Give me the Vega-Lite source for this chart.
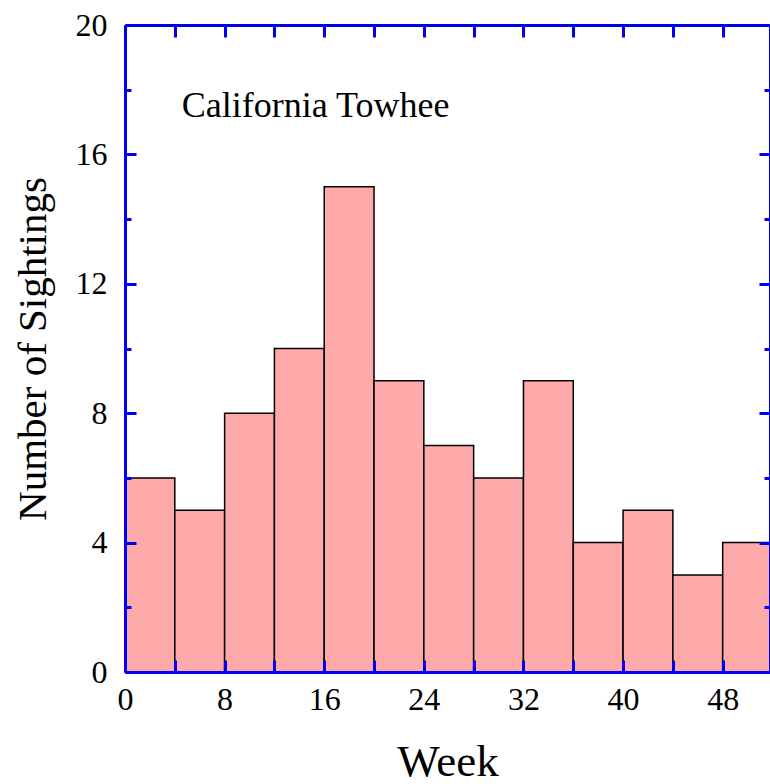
{
  "$schema": "https://vega.github.io/schema/vega-lite/v6.json",
  "width": 645,
  "height": 647,
  "autosize": {"type": "none"},
  "padding": {"left": 125, "top": 25, "right": 0, "bottom": 112},
  "background": "white",
  "config": {"view": {"stroke": null}, "font": "Liberation Serif"},
  "data": {"values": [
    {"start": 0, "end": 4, "count": 6},
    {"start": 4, "end": 8, "count": 5},
    {"start": 8, "end": 12, "count": 8},
    {"start": 12, "end": 16, "count": 10},
    {"start": 16, "end": 20, "count": 15},
    {"start": 20, "end": 24, "count": 9},
    {"start": 24, "end": 28, "count": 7},
    {"start": 28, "end": 32, "count": 6},
    {"start": 32, "end": 36, "count": 9},
    {"start": 36, "end": 40, "count": 4},
    {"start": 40, "end": 44, "count": 5},
    {"start": 44, "end": 48, "count": 3},
    {"start": 48, "end": 52, "count": 4}
  ]},
  "layer": [
    {
      "mark": {"type": "bar", "fill": "#ffaaaa", "stroke": "black", "strokeWidth": 1.5, "clip": true},
      "encoding": {
        "x": {"field": "start", "type": "quantitative",
          "scale": {"domain": [0, 51.8], "nice": false, "zero": false},
          "axis": {"orient": "bottom", "zindex": 1, "values": [0, 4, 8, 12, 16, 20, 24, 28, 32, 36, 40, 44, 48],
            "labelExpr": "datum.value % 8 === 0 ? datum.label : ''",
            "tickSize": -12, "tickWidth": 3, "tickColor": "#0000ee",
            "domainColor": "#0000ee", "domainWidth": 3, "grid": false,
            "labelFont": "Liberation Serif", "labelFontSize": 32, "labelColor": "black",
            "labelPadding": 24, "labelFlush": false, "labelOverlap": false,
            "title": "Week", "titleFont": "Liberation Serif", "titleFontSize": 45,
            "titleFontWeight": "normal", "titleColor": "black", "titlePadding": 24}},
        "x2": {"field": "end"},
        "y": {"field": "count", "type": "quantitative",
          "scale": {"domain": [0, 20], "nice": false},
          "axis": {"orient": "left", "zindex": 1, "values": [0, 2, 4, 6, 8, 10, 12, 14, 16, 18, 20],
            "labelExpr": "datum.value % 4 === 0 ? datum.label : ''",
            "tickSize": {"condition": {"test": "datum.value % 4 === 0", "value": -11}, "value": -6},
            "tickWidth": 3, "tickColor": "#0000ee",
            "domainColor": "#0000ee", "domainWidth": 3, "grid": false,
            "labelFont": "Liberation Serif", "labelFontSize": 32, "labelColor": "black",
            "labelPadding": 29, "labelFlush": false, "labelOverlap": false,
            "title": "Number of Sightings", "titleFont": "Liberation Serif", "titleFontSize": 41,
            "titleFontWeight": "normal", "titleColor": "black", "titlePadding": 21}},
        "y2": {"datum": 0}
      }
    },
    {
      "data": {"values": [{"x": 4.55, "y": 17.5, "label": "California Towhee"}]},
      "mark": {"type": "text", "font": "Liberation Serif", "fontSize": 36, "align": "left", "baseline": "middle", "color": "black"},
      "encoding": {
        "x": {"field": "x", "type": "quantitative",
          "axis": {"orient": "top", "zindex": 1, "values": [0, 4, 8, 12, 16, 20, 24, 28, 32, 36, 40, 44, 48],
            "labels": false, "tickSize": -12, "tickWidth": 3, "tickColor": "#0000ee",
            "domainColor": "#0000ee", "domainWidth": 3, "grid": false, "title": null}},
        "y": {"field": "y", "type": "quantitative",
          "axis": {"orient": "right", "zindex": 1, "values": [0, 2, 4, 6, 8, 10, 12, 14, 16, 18, 20],
            "labels": false,
            "tickSize": {"condition": {"test": "datum.value % 4 === 0", "value": -11}, "value": -6},
            "tickWidth": 3, "tickColor": "#0000ee",
            "domainColor": "#0000ee", "domainWidth": 3, "grid": false, "title": null}},
        "text": {"field": "label"}
      }
    }
  ],
  "resolve": {"axis": {"x": "independent", "y": "independent"}}
}
